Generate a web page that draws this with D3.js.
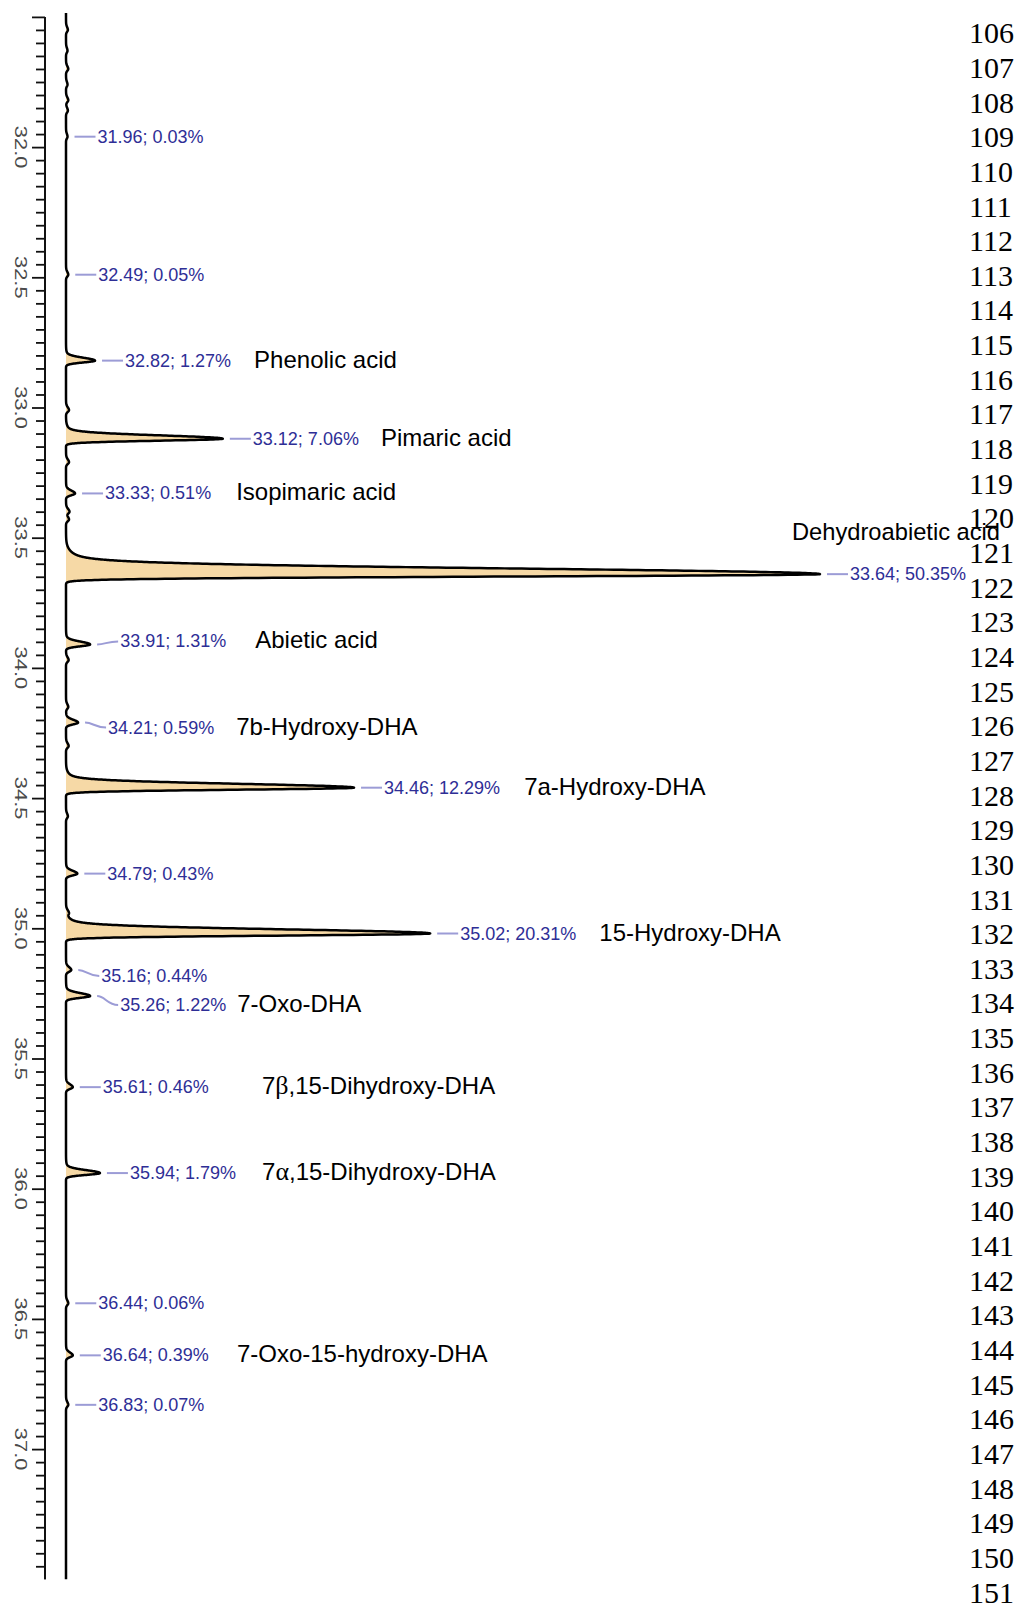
<!DOCTYPE html>
<html>
<head>
<meta charset="utf-8">
<script src="https://cdn.jsdelivr.net/npm/d3@7"></script>
<style>
  html, body { margin: 0; padding: 0; background: #ffffff; }
  svg { display: block; }
</style>
</head>
<body>
<svg id="chart" width="1021" height="1607"></svg>
<script>
// ---------------- data ----------------
const peakRT     = [31.96, 32.49, 32.82, 33.12, 33.33, 33.64, 33.91, 34.21, 34.46, 34.79, 35.02, 35.16, 35.26, 35.61, 35.94, 36.44, 36.64, 36.83];
const peakArea   = [0.03, 0.05, 1.27, 7.06, 0.51, 50.35, 1.31, 0.59, 12.29, 0.43, 20.31, 0.44, 1.22, 0.46, 1.79, 0.06, 0.39, 0.07];
const peakHeight = [0.2, 0.3, 3.85, 20.8, 1.2, 100, 3.2, 1.6, 38.2, 1.5, 48.3, 0.7, 3.2, 0.9, 4.5, 0.3, 0.9, 0.3];
const peakName   = ["", "", "Phenolic acid", "Pimaric acid", "Isopimaric acid", "Dehydroabietic acid", "Abietic acid",
                    "7b-Hydroxy-DHA", "7a-Hydroxy-DHA", "", "15-Hydroxy-DHA", "", "7-Oxo-DHA",
                    "7β,15-Dihydroxy-DHA", "7α,15-Dihydroxy-DHA", "", "7-Oxo-15-hydroxy-DHA", ""];
// small unlabelled baseline bumps
const minorRT     = [31.55, 31.63, 31.70, 31.76, 31.82, 31.86, 33.01, 33.21, 33.40, 33.43, 33.97, 34.15, 34.30, 34.57, 34.94];
const minorHeight = [0.25, 0.2, 0.3, 0.2, 0.3, 0.25, 0.4, 0.4, 0.45, 0.4, 0.35, 0.3, 0.35, 0.25, 0.3];

const axisMajor  = [31.5, 32.0, 32.5, 33.0, 33.5, 34.0, 34.5, 35.0, 35.5, 36.0, 36.5, 37.0];
const axisLabels = ["32.0", "32.5", "33.0", "33.5", "34.0", "34.5", "35.0", "35.5", "36.0", "36.5", "37.0"];
const lineNumbers = [106,107,108,109,110,111,112,113,114,115,116,117,118,119,120,121,122,123,124,125,126,127,128,
                     129,130,131,132,133,134,135,136,137,138,139,140,141,142,143,144,145,146,147,148,149,150,151];

// ---------------- layout (not data) ----------------
const labelDy  = [0,0,0,0,0,0,-3,5,0,0,0,6,9,0,0,0,0,0];        // label shift from peak apex (px)
const nameGap  = [0,0,23,22,25,0,29,22,24,0,23,0,11,53,26,0,28,0]; // gap after blue label (px)

const svg = d3.select("#chart");

const y = d3.scaleLinear().domain([31.5, 37.5]).range([16.9, 1579.3]);
const x = d3.scaleLinear().domain([0, 100]).range([66, 820]);
const pxPerMin = (y(33) - y(32));

function profile(dt, h) {
  const s = h / 100;
  if (dt < 0) {
    const sg = (2.7 + 2.7 * s) / pxPerMin;
    return 0.94 * Math.exp(-dt * dt / (2 * sg * sg)) + 0.06 * Math.exp(-dt * dt / (8 * sg * sg));
  } else {
    const sg = (1.8 + 0.5 * s) / pxPerMin;
    return Math.exp(-dt * dt / (2 * sg * sg));
  }
}
const allRT = peakRT.concat(minorRT);
const allH = peakHeight.concat(minorHeight);
function signal(t) {
  let v = 0;
  for (let i = 0; i < allRT.length; i++) {
    const dt = t - allRT[i];
    if (Math.abs(dt) < 0.25) v += allH[i] * profile(dt, allH[i]);
  }
  return v;
}
const trace = [];
for (let t = 31.485; t <= 37.5; t += 0.0004) trace.push({t: t, v: signal(t)});

// ---------------- trace ----------------
svg.append("path")
  .datum(trace)
  .attr("d", d3.area().y(d => y(d.t)).x0(x(0)).x1(d => x(d.v)))
  .attr("fill", "#f6d9a6");
svg.append("path")
  .datum(trace)
  .attr("d", d3.line().y(d => y(d.t)).x(d => x(d.v)))
  .attr("fill", "none").attr("stroke", "#000").attr("stroke-width", 2.5)
  .attr("stroke-linejoin", "round");

// ---------------- axis ----------------
const axX = 45;
const minorTicks = d3.range(0, 121).map(i => 31.5 + i * 0.05).filter(v => Math.abs((v * 2) - Math.round(v * 2)) > 1e-6);
const gMinor = svg.append("g").attr("transform", `translate(${axX},0)`)
  .call(d3.axisLeft(y).tickValues(minorTicks).tickSize(9).tickFormat(""));
const gMajor = svg.append("g").attr("transform", `translate(${axX},0)`)
  .call(d3.axisLeft(y).tickValues(axisMajor).tickSize(13).tickFormat(""));
[gMinor, gMajor].forEach(g => {
  g.selectAll(".tick line").attr("stroke", "#111").attr("stroke-width", 1.8);
  g.select(".domain").attr("stroke", "#111").attr("stroke-width", 2).attr("d", `M0,${y(31.5)}V${y(37.5)}`);
});
svg.append("g").selectAll("text").data(axisLabels).join("text")
  .attr("transform", d => `translate(15,${y(+d)}) rotate(90) scale(1.33,1)`)
  .attr("text-anchor", "middle")
  .attr("font-family", "Liberation Sans, Arial, sans-serif")
  .attr("font-size", 16.5)
  .attr("fill", "#4a4a4a")
  .text(d => d);

// ---------------- peak labels ----------------
const lblColor = "#2e2e96", dashColor = "#9c9cd6";
const gl = svg.append("g");
peakRT.forEach((rt, i) => {
  const x0 = x(peakHeight[i]) + 7;
  const yp = y(rt);
  const yl = yp + labelDy[i];
  if (labelDy[i] === 0) {
    gl.append("line").attr("x1", x0).attr("x2", x0 + 21).attr("y1", yl).attr("y2", yl)
      .attr("stroke", dashColor).attr("stroke-width", 2);
  } else {
    gl.append("path").attr("d", `M${x0},${yp} C${x0 + 8},${yp} ${x0 + 10},${yl} ${x0 + 21},${yl}`)
      .attr("fill", "none").attr("stroke", dashColor).attr("stroke-width", 2);
  }
  const t = gl.append("text").attr("x", x0 + 23).attr("y", yl)
    .attr("dominant-baseline", "central")
    .attr("font-family", "Liberation Sans, Arial, sans-serif")
    .attr("font-size", 18).attr("fill", lblColor)
    .text(rt.toFixed(2) + "; " + peakArea[i].toFixed(2) + "%");
  const name = peakName[i];
  if (!name) return;
  const endX = x0 + 23 + t.node().getComputedTextLength();
  let nx = endX + nameGap[i], ny = yl - 2;
  if (i === 5) { nx = 792; ny = yl - 42; }
  const nt = gl.append("text").attr("x", nx).attr("y", ny)
    .attr("dominant-baseline", "central")
    .attr("font-family", "Liberation Sans, Arial, sans-serif")
    .attr("font-size", 24).attr("fill", "#000");
  if (i === 5) nt.attr("font-size", 23.7);
  const parts = name.split(/([αβ])/);
  parts.forEach(p => {
    if (!p) return;
    const ts = nt.append("tspan").text(p);
    if (p === "α" || p === "β") ts.attr("font-family", "Liberation Serif, Times New Roman, serif").attr("font-size", 26);
  });
});

// ---------------- line numbers ----------------
const yn = d3.scaleLinear().domain([106, 151]).range([32.8, 1592]);
svg.append("g").selectAll("text").data(lineNumbers).join("text")
  .attr("x", 969).attr("y", d => yn(d))
  .attr("dominant-baseline", "central")
  .attr("font-family", "Liberation Serif, Times New Roman, serif")
  .attr("font-size", 30).attr("fill", "#000")
  .text(d => d);
</script>
</body>
</html>
